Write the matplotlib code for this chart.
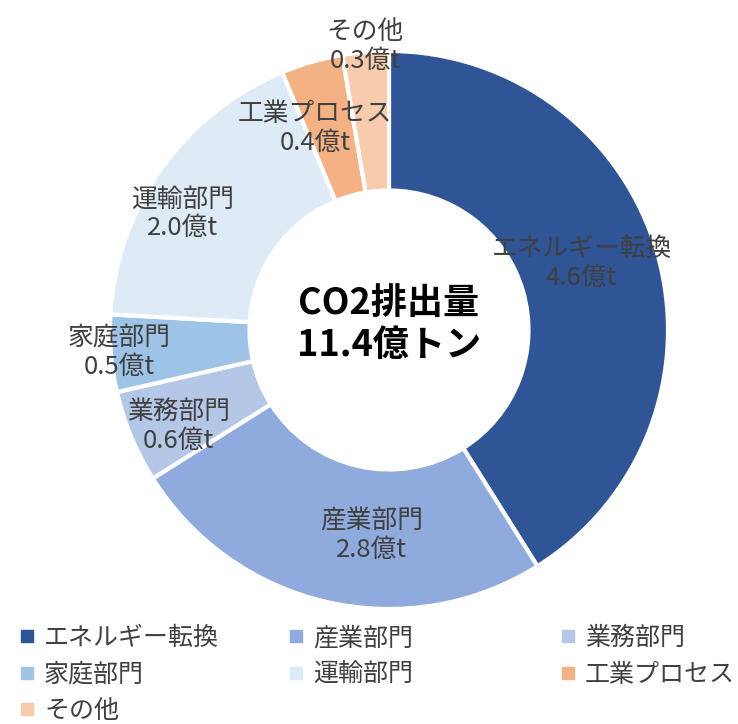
import numpy as np
import matplotlib
matplotlib.use("Agg")
import matplotlib.pyplot as plt
from matplotlib.lines import Line2D

plt.rcParams['font.family'] = ['Noto Sans CJK JP', 'DejaVu Sans']

categories = ["エネルギー転換", "産業部門", "業務部門", "家庭部門", "運輸部門", "工業プロセス", "その他"]
values = [4.6, 2.8, 0.6, 0.5, 2.0, 0.4, 0.3]
value_labels = ["4.6億t", "2.8億t", "0.6億t", "0.5億t", "2.0億t", "0.4億t", "0.3億t"]
center_title = "CO2排出量\n11.4億トン"

colors = ["#2F5597", "#8FAADC", "#B4C7E7", "#9DC3E6", "#DEEBF7", "#F4B183", "#F8CBAD"]
label_r = [0.73, 0.74, 0.83, 0.97, 0.85, 0.77, 1.02]
angle_shift = [3, 8, 2, 0, 6, 4, 0]

W, H = 738, 724
fig = plt.figure(figsize=(W / 100, H / 100), dpi=100)
cx, cy, R = 389, 330, 279
ax = fig.add_axes([(cx - R) / W, (H - cy - R) / H, 2 * R / W, 2 * R / H])
ax.set_aspect('equal')

wedges, _ = ax.pie(values, colors=colors, startangle=90, counterclock=False,
                   radius=1.0, wedgeprops=dict(width=0.5, edgecolor='white', linewidth=3))
ax.set_xlim(-1, 1)
ax.set_ylim(-1, 1)
ax.axis('off')

for w, cat, vl, r, sh in zip(wedges, categories, value_labels, label_r, angle_shift):
    mid = np.deg2rad((w.theta1 + w.theta2) / 2 + sh)
    ax.text(r * np.cos(mid), r * np.sin(mid), f"{cat}\n{vl}", ha='center', va='center',
            fontsize=18.5, color='#404040', linespacing=1.15, clip_on=False)

ax.text(0, 0.02, center_title, ha='center', va='center', fontsize=26,
        fontweight='bold', color='black', linespacing=1.15)

handles = [Line2D([], [], marker='s', linestyle='none', markersize=8,
                  markerfacecolor=c, markeredgecolor=c) for c in colors]
col_groups = [[0, 3, 6], [1, 4], [2, 5]]
col_x = [19, 288, 560]
for xs, grp in zip(col_x, col_groups):
    fig.legend([handles[i] for i in grp], [categories[i] for i in grp],
               loc='upper left', bbox_to_anchor=(xs / W, 1 - 625 / H), ncol=1,
               frameon=False, fontsize=18, handlelength=0.6, handletextpad=0.4,
               labelspacing=0.42, borderaxespad=0, borderpad=0,
               labelcolor='#404040')

fig.savefig("out.png", dpi=100, facecolor='white')
